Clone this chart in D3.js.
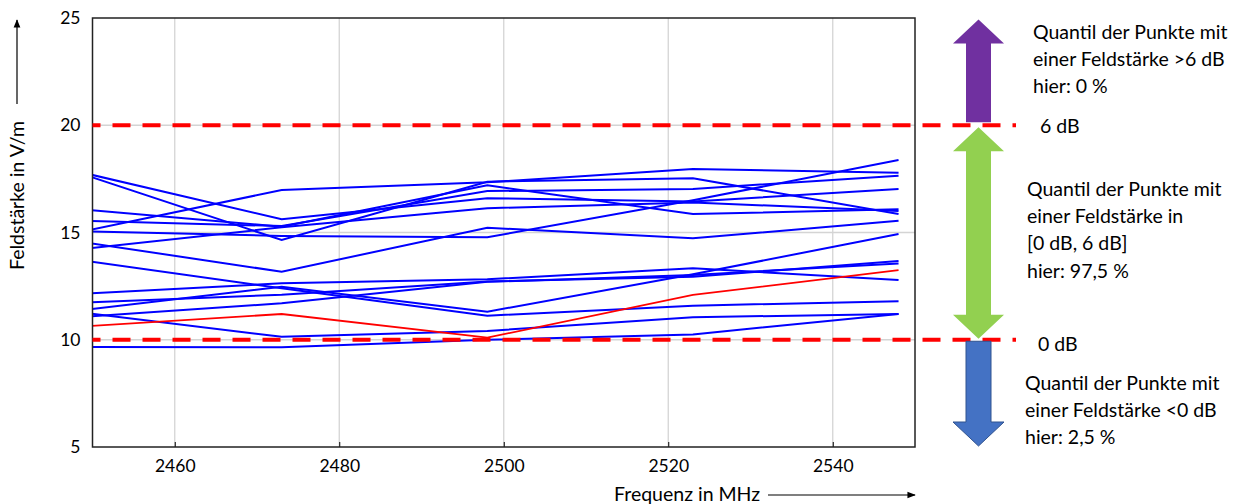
<!DOCTYPE html>
<html>
<head>
<meta charset="utf-8">
<script src="https://cdn.jsdelivr.net/npm/d3@7/dist/d3.min.js"></script>
<style>
  body { margin: 0; background: #fff; }
  svg text { font-family: Lato, "Liberation Sans", sans-serif; fill: #000; }
</style>
</head>
<body>
<svg id="chart" width="1246" height="504"></svg>
<script>
'use strict';

// frequencies of the measured points (MHz)
var freqs = [2448, 2473, 2498, 2523, 2548];

// field strength per measurement run (V/m)
var runA = [17.86, 15.62, 16.60, 16.44, 17.03],
runB = [17.82, 14.65, 17.37, 17.53, 15.86],
runC = [16.10, 15.27, 17.20, 15.86, 16.08],
runD = [15.55, 15.30, 16.93, 17.03, 17.65],
runE = [14.98, 16.98, 17.34, 17.96, 17.79],
runF = [15.06, 14.84, 14.78, 16.50, 18.38],
runG = [14.60, 13.17, 15.22, 14.73, 15.55],
runH = [14.20, 15.24, 16.13, 16.40, 16.00],
runI = [13.74, 12.40, 11.12, 11.59, 11.80],
runJ = [11.35, 12.47, 11.31, 13.05, 14.93],
runK = [12.13, 12.63, 12.82, 13.33, 12.79],
runL = [11.72, 12.10, 12.71, 12.94, 13.67],
runM = [11.30, 10.14, 10.41, 11.05, 11.20],
runN = [9.66, 9.65, 10.00, 10.25, 11.20],
runO = [11.05, 11.70, 12.70, 13.02, 13.56];
var blueRuns = [runA, runB, runC, runD, runE, runF, runG, runH, runI, runJ, runK, runL, runM, runN, runO];
var redRun = [10.60, 11.20, 10.10, 12.09, 13.25];

// limits
var limit0dB = 10, limit6dB = 20;

var xTicks = [2460, 2480, 2500, 2520, 2540];
var yTicks = [5, 10, 15, 20, 25];

var quantUpper = ['Quantil der Punkte mit', 'einer Feldstärke >6 dB', 'hier: 0 %'];
var quantMid = ['Quantil der Punkte mit', 'einer Feldstärke in', '[0 dB, 6 dB]', 'hier: 97,5 %'];
var quantLower = ['Quantil der Punkte mit', 'einer Feldstärke <0 dB', 'hier: 2,5 %'];

var svg = d3.select('#chart');
var pL = 92.5, pR = 915, pT = 18, pB = 447;
var fs = '19.5px';

var x = d3.scaleLinear().domain([2450, 2550]).range([pL, pR]);
var y = d3.scaleLinear().domain([5, 25]).range([pB, pT]);

svg.append('clipPath').attr('id', 'plotclip')
  .append('rect').attr('x', pL).attr('y', pT)
  .attr('width', pR - pL).attr('height', pB - pT);

// grid
svg.append('g').selectAll('line').data(xTicks).join('line')
  .attr('x1', d => x(d)).attr('x2', d => x(d))
  .attr('y1', pT).attr('y2', pB)
  .style('stroke', '#d4d4d4').style('stroke-width', 1.3);
svg.append('g').selectAll('line').data([10, 15, 20]).join('line')
  .attr('x1', pL).attr('x2', pR)
  .attr('y1', d => y(d)).attr('y2', d => y(d))
  .style('stroke', '#d4d4d4').style('stroke-width', 1.3);

// axes
var xAxis = svg.append('g').attr('transform', 'translate(0,' + pB + ')')
  .call(d3.axisBottom(x).tickValues(xTicks).tickSize(-5).tickPadding(13).tickFormat(d3.format('d')));
xAxis.select('.domain').remove();
xAxis.selectAll('text').style('font-size', '17.5px');
xAxis.selectAll('line').style('stroke', '#000');

var yAxis = svg.append('g').attr('transform', 'translate(' + pL + ',0)')
  .call(d3.axisLeft(y).tickValues(yTicks).tickSize(0).tickPadding(12));
yAxis.select('.domain').remove();
yAxis.selectAll('text').style('font-size', '17.5px');

// data lines
var line = d3.line().x((d, i) => x(freqs[i])).y(d => y(d));
var plot = svg.append('g').attr('clip-path', 'url(#plotclip)');
plot.selectAll('path.blue').data(blueRuns).join('path')
  .attr('class', 'blue').attr('d', line)
  .style('fill', 'none').style('stroke', '#0000ff').style('stroke-width', 2);
plot.append('path').datum(redRun).attr('d', line)
  .style('fill', 'none').style('stroke', '#ff0000').style('stroke-width', 1.8);

// frame
svg.append('rect').attr('x', pL).attr('y', pT)
  .attr('width', pR - pL).attr('height', pB - pT)
  .style('fill', 'none').style('stroke', '#222').style('stroke-width', 1.5);

// dashed limit lines
svg.selectAll('line.limit').data([limit6dB, limit0dB]).join('line')
  .attr('class', 'limit')
  .attr('x1', pL).attr('x2', 1016)
  .attr('y1', d => y(d)).attr('y2', d => y(d))
  .style('stroke', '#ff0000').style('stroke-width', 4)
  .style('stroke-dasharray', '18,12').style('stroke-dashoffset', 10);

// block arrows
var ax = 978.5, shaftW = 12.5, headW = 25.5, headH = 24;
function upArrow(yTip, yEnd) {
  return [[ax, yTip], [ax + headW, yTip + headH], [ax + shaftW, yTip + headH], [ax + shaftW, yEnd],
    [ax - shaftW, yEnd], [ax - shaftW, yTip + headH], [ax - headW, yTip + headH]];
}
function downArrow(yStart, yTip) {
  return [[ax - shaftW, yStart], [ax + shaftW, yStart], [ax + shaftW, yTip - headH], [ax + headW, yTip - headH],
    [ax, yTip], [ax - headW, yTip - headH], [ax - shaftW, yTip - headH]];
}
function doubleArrow(yTop, yBot) {
  return [[ax, yTop], [ax + headW, yTop + headH], [ax + shaftW, yTop + headH], [ax + shaftW, yBot - headH],
    [ax + headW, yBot - headH], [ax, yBot], [ax - headW, yBot - headH], [ax - shaftW, yBot - headH],
    [ax - shaftW, yTop + headH], [ax - headW, yTop + headH]];
}
svg.append('polygon').attr('points', upArrow(y(25) + 1.5, y(limit6dB) - 3).join(' '))
  .style('fill', '#7030a0');
svg.append('polygon').attr('points', doubleArrow(y(limit6dB) + 2, y(limit0dB) - 1).join(' '))
  .style('fill', '#92d050');
svg.append('polygon').attr('points', downArrow(y(limit0dB) + 1.5, y(5) - 1).join(' '))
  .style('fill', '#4472c4').style('stroke', '#2f528f').style('stroke-width', 1);

// limit labels
svg.append('text').attr('x', 1040).attr('y', y(limit6dB) + 8).text('6 dB').style('font-size', fs);
svg.append('text').attr('x', 1038).attr('y', y(limit0dB) + 11).text('0 dB').style('font-size', fs);

// quantile texts
function block(lines, x0, y0) {
  svg.append('g').selectAll('text').data(lines).join('text')
    .attr('x', x0).attr('y', (d, i) => y0 + i * 27.2)
    .text(d => d).style('font-size', fs);
}
block(quantUpper, 1033, 39);
block(quantMid, 1027, 196);
block(quantLower, 1025, 390);

// axis titles with arrows
svg.append('defs').append('marker').attr('id', 'ah')
  .attr('viewBox', '0 0 10 10').attr('refX', 9).attr('refY', 5)
  .attr('markerWidth', 7).attr('markerHeight', 7).attr('orient', 'auto')
  .append('path').attr('d', 'M0,1 L10,5 L0,9 z').style('fill', '#000');

svg.append('text').attr('x', 614).attr('y', 501).text('Frequenz in MHz').style('font-size', fs);
svg.append('line').attr('x1', 768).attr('x2', 915).attr('y1', 495).attr('y2', 495)
  .style('stroke', '#000').style('stroke-width', 1.2).attr('marker-end', 'url(#ah)');

svg.append('text').attr('transform', 'translate(24,270) rotate(-90)')
  .text('Feldstärke in V/m').style('font-size', fs);
svg.append('line').attr('x1', 17).attr('x2', 17).attr('y1', 104).attr('y2', 20)
  .style('stroke', '#000').style('stroke-width', 1.2).attr('marker-end', 'url(#ah)');
</script>
</body>
</html>
